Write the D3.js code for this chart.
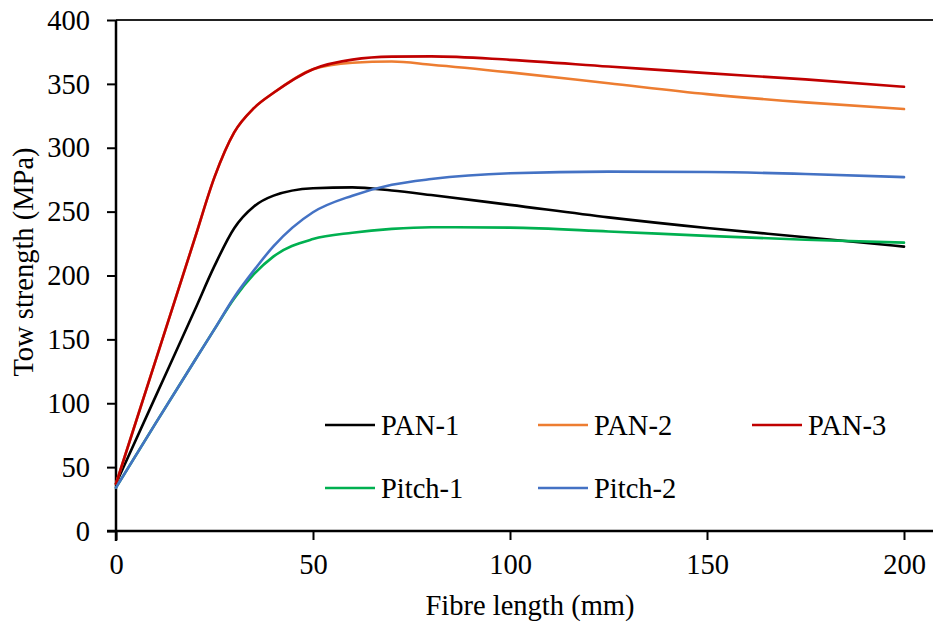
<!DOCTYPE html>
<html>
<head>
<meta charset="utf-8">
<script src="https://cdn.jsdelivr.net/npm/d3@7"></script>
<style>
  body { margin: 0; background: #fff; }
</style>
</head>
<body>
<div id="chart"></div>
<script>
// data
var fibreLength = [0, 10, 20, 25, 30, 35, 40, 50, 60, 70, 80, 100, 125, 150, 175, 200];
var pan1   = [37, 105, 173, 207.5, 237, 254, 262.5, 268.3, 269, 266.5, 263, 255.3, 245.5, 237.2, 230, 222.6];
var pan2   = [37, 133, 229, 277, 312, 331, 343, 361.5, 366.5, 367.5, 365, 359, 350.5, 342, 335.5, 330.3];
var pan3   = [37, 133, 229, 277, 312, 331, 343, 361.5, 369, 371.3, 371.5, 368.8, 363.6, 358.4, 353.5, 347.7];
var pitch1 = [34, 84, 133.5, 158, 182, 201, 215, 228.5, 233.5, 236.5, 237.8, 237.5, 234.5, 231, 228, 225.7];
var pitch2 = [34, 84, 133.5, 158, 183, 204, 223, 249.5, 262.5, 271, 275.5, 280, 281.3, 281, 279.5, 277];

var seriesNames = ["PAN-1", "PAN-2", "PAN-3", "Pitch-1", "Pitch-2"];
var seriesColors = ["#000000", "#ED7D31", "#C00000", "#00B050", "#4472C4"];
var xTicks = [0, 50, 100, 150, 200];
var yTicks = [0, 50, 100, 150, 200, 250, 300, 350, 400];

var svgWidth = 933;
var svgHeight = 626;

var svg = d3.select("#chart")
  .append("svg")
  .attr("width", svgWidth)
  .attr("height", svgHeight);

// scales
var xScale = d3.scaleLinear().domain([0, 200]).range([116, 904]);
var yScale = d3.scaleLinear().domain([0, 400]).range([531, 20]);

var series = [pan1, pan2, pan3, pitch1, pitch2].map(function(vals, i) {
  return {
    name: seriesNames[i],
    color: seriesColors[i],
    values: fibreLength.map(function(x, j) { return { x: x, y: vals[j] }; })
  };
});

// all text in Times-like serif
function serifText(sel) {
  sel.attr("font-family", "Liberation Serif")
    .attr("font-size", 28.5)
    .style("font-family", "'Liberation Serif'")
    .style("font-size", "28.5px")
    .style("fill", "#000");
}

// top border
svg.append("line")
  .attr("x1", 116).attr("x2", svgWidth)
  .attr("y1", yScale(400)).attr("y2", yScale(400))
  .attr("stroke", "#222").attr("stroke-width", 2);

// y axis
var leftAxis = d3.axisLeft(yScale).tickValues(yTicks).tickSize(9).tickPadding(17);
var yAxis = svg.append("g")
  .attr("transform", "translate(116, 0)")
  .call(leftAxis);
yAxis.attr("font-family", "Liberation Serif");
yAxis.select(".domain").remove();
yAxis.append("line")
  .attr("x1", 0).attr("x2", 0)
  .attr("y1", yScale(400)).attr("y2", yScale(0) + 10)
  .attr("stroke", "#000").attr("stroke-width", 2.5);
yAxis.selectAll(".tick line").attr("stroke", "#000").attr("stroke-width", 2);
yAxis.selectAll(".tick text").call(serifText);

// x axis
var bottomAxis = d3.axisBottom(xScale).tickValues(xTicks).tickSize(9).tickPadding(14);
var xAxis = svg.append("g")
  .attr("transform", "translate(0, " + yScale(0) + ")")
  .call(bottomAxis);
xAxis.attr("font-family", "Liberation Serif");
xAxis.select(".domain").remove();
xAxis.append("line")
  .attr("x1", 107).attr("x2", svgWidth)
  .attr("y1", 0).attr("y2", 0)
  .attr("stroke", "#000").attr("stroke-width", 2.5);
xAxis.selectAll(".tick line").attr("stroke", "#000").attr("stroke-width", 2);
xAxis.selectAll(".tick text").call(serifText);

// lines
var line = d3.line()
  .x(function(d) { return xScale(d.x); })
  .y(function(d) { return yScale(d.y); })
  .curve(d3.curveMonotoneX);

svg.append("g")
  .selectAll("path")
  .data(series)
  .enter()
  .append("path")
  .attr("d", function(d) { return line(d.values); })
  .attr("fill", "none")
  .attr("stroke", function(d) { return d.color; })
  .attr("stroke-width", 2.6)
  .attr("stroke-linejoin", "round")
  .attr("stroke-linecap", "round");

// legend
var legendPos = [[325, 425], [538, 425], [752, 425], [325, 488], [538, 488]];
var legend = svg.append("g")
  .selectAll("g")
  .data(series)
  .enter()
  .append("g")
  .attr("transform", function(d, i) { return "translate(" + legendPos[i][0] + "," + legendPos[i][1] + ")"; });

legend.append("line")
  .attr("x1", 0).attr("x2", 50)
  .attr("y1", 0).attr("y2", 0)
  .attr("stroke", function(d) { return d.color; })
  .attr("stroke-width", 2.6);

legend.append("text")
  .attr("x", 56)
  .attr("y", 0)
  .attr("dy", "0.35em")
  .call(serifText)
  .text(function(d) { return d.name; });

// axis titles
svg.append("text")
  .attr("x", 530)
  .attr("y", 615)
  .attr("text-anchor", "middle")
  .call(serifText)
  .text("Fibre length (mm)");

svg.append("text")
  .attr("transform", "translate(33, 262) rotate(-90)")
  .attr("text-anchor", "middle")
  .call(serifText)
  .text("Tow strength (MPa)");
</script>
</body>
</html>
